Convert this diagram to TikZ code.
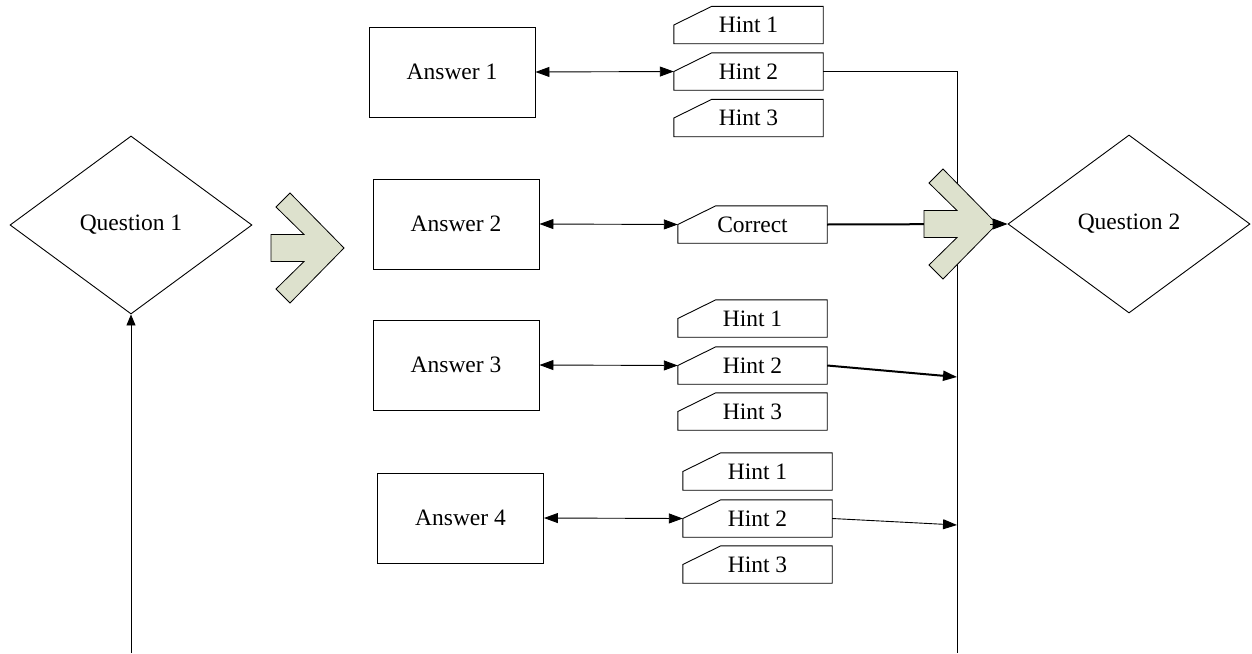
\documentclass[tikz,border=0pt]{standalone}
\usepackage{fontspec}
\setmainfont{Liberation Serif}
\usetikzlibrary{shapes.geometric,arrows.meta}
\definecolor{chev}{RGB}{221,225,205}
\newcommand\lbl{\fontsize{23.5}{28}\selectfont}
\tikzset{
  ansbox/.style={draw, line width=0.9pt, minimum width=166pt, minimum height=90pt, inner sep=0pt, font=\lbl},
  qd/.style={diamond, draw, line width=0.9pt, minimum width=242pt, minimum height=178pt, inner sep=0pt, font=\lbl},
  hintnode/.style={minimum width=149pt, minimum height=37pt, inner sep=0pt, font=\lbl},
  hintline/.style={draw, line width=0.9pt},
  conn/.style={line width=0.9pt},
  thickconn/.style={line width=2pt},
  tip/.style={Triangle[length=14pt,width=10pt]},
  dbl/.style={conn, {Triangle[length=14pt,width=10pt]}-{Triangle[length=14pt,width=10pt]}},
  chevstyle/.style={draw, line width=0.8pt, fill=chev, line join=miter},
}
\newcommand\hintbox[3]{%
  \node[hintnode] (#1) at (#2) {#3};
  \draw[hintline] (#1.west) -- ([xshift=38pt]#1.north west) -- (#1.north east) -- (#1.south east) -- (#1.south west) -- cycle;}
\newcommand\chevronat[1]{%
  \begin{scope}[shift={(#1)}]
    \draw[chevstyle] (0,0) -- (-54,-55) -- (-68,-41) -- (-40,-13.5) -- (-73,-13.5) -- (-73,13.5) -- (-40,13.5) -- (-68,41) -- (-54,55) -- cycle;
  \end{scope}}
\begin{document}
\begin{tikzpicture}[x=1pt,y=-1pt]
\useasboundingbox (0,0) rectangle (1252,653);
% questions
\node[qd] (q1) at (131,225) {Question 1};
\node[qd] (q2) at (1129,224) {Question 2};
% answers
\node[ansbox] (a1) at (452,72) {Answer 1};
\node[ansbox] (a2) at (456,224) {Answer 2};
\node[ansbox] (a3) at (456,365) {Answer 3};
\node[ansbox] (a4) at (460.5,518) {Answer 4};
% hints
\hintbox{h11}{748.5,25}{Hint 1}
\hintbox{h12}{748.5,71.5}{Hint 2}
\hintbox{h13}{748.5,118}{Hint 3}
\hintbox{cor}{752.5,224.5}{Correct}
\hintbox{h31}{752.5,318.5}{Hint 1}
\hintbox{h32}{752.5,365.5}{Hint 2}
\hintbox{h33}{752.5,411.5}{Hint 3}
\hintbox{h41}{757.5,471.5}{Hint 1}
\hintbox{h42}{757.5,518.5}{Hint 2}
\hintbox{h43}{757.5,564.5}{Hint 3}
% coordinates
\coordinate (vb) at (957,653);
\coordinate (v3) at (957,377);
\coordinate (v4) at (957,525);
\coordinate (qb) at (131,653);
\coordinate (c2tip) at (990,224);
% connectors
\draw[conn] (h12.east) -| (vb);
\draw[dbl] (a1.east) -- (h12.west);
\draw[dbl] (a2.east) -- (cor.west);
\draw[dbl] (a3.east) -- (h32.west);
\draw[dbl] (a4.east) -- (h42.west);
\draw[thickconn] (cor.east) -- (c2tip);
\draw[thickconn, -{Triangle[length=14pt,width=10pt]}] (h32.east) -- (v3);
\draw[conn, -{Triangle[length=14pt,width=10pt]}] (h42.east) -- (v4);
\draw[conn, -{Triangle[length=11pt,width=9pt]}] (qb) -- (q1.south);
% chevrons
\chevronat{344,248}
\chevronat{997,224}
\draw[conn, -{Triangle[length=15pt,width=11pt]}] (c2tip) -- (q2.west);
\end{tikzpicture}
\end{document}
